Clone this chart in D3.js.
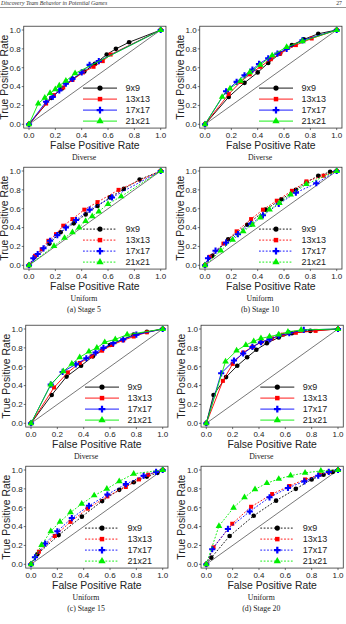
<!DOCTYPE html>
<html>
<head>
<meta charset="utf-8">
<script src="https://cdn.jsdelivr.net/npm/d3@7"></script>
<style>
  body { margin: 0; background: #fff; }
  svg { display: block; }
  .tick-label { font-family: "Liberation Sans", Arial, sans-serif; font-size: 8px; fill: #222; }
  .axis-title { font-family: "Liberation Sans", Arial, sans-serif; font-size: 10.4px; fill: #222; }
  .legend-text { font-family: "Liberation Sans", Arial, sans-serif; font-size: 9px; fill: #222; }
  .caption { font-family: "Liberation Serif", "Times New Roman", serif; font-size: 7.8px; fill: #222; }
  .header { font-family: "Liberation Serif", "Times New Roman", serif; font-size: 5.8px; font-style: italic; fill: #333; }
</style>
</head>
<body>
<svg id="chart"></svg>
<script>
(function(){
    // series names + ticks
    const sizes = ["9x9", "13x13", "17x17", "21x21"];
    const ticks = [0, 0.2, 0.4, 0.6, 0.8, 1.0];
    const tickLabels = ["0.0", "0.2", "0.4", "0.6", "0.8", "1.0"];

    // [FPR, TPR] points, one list per board size
    const stage5Diverse = [
        [[0,0],[0.17,0.28],[0.25,0.38],[0.33,0.48],[0.42,0.56],[0.50,0.64],[0.59,0.74],[0.66,0.80],[0.76,0.87],[1,1]],
        [[0,0],[0.13,0.22],[0.19,0.31],[0.26,0.39],[0.33,0.47],[0.41,0.55],[0.49,0.61],[0.56,0.67],[0.62,0.74],[1,1]],
        [[0,0],[0.13,0.24],[0.18,0.29],[0.23,0.36],[0.28,0.43],[0.33,0.48],[0.40,0.55],[0.46,0.63],[0.53,0.67],[1,1]],
        [[0,0],[0.07,0.22],[0.12,0.28],[0.16,0.33],[0.20,0.37],[0.23,0.41],[0.28,0.46],[0.35,0.54],[1,1]]
    ];
    const stage5Uniform = [
        [[0,0],[0.155,0.23],[0.24,0.35],[0.34,0.445],[0.43,0.54],[0.52,0.63],[0.615,0.72],[0.72,0.81],[0.84,0.91],[1,1]],
        [[0,0],[0.046,0.10],[0.096,0.17],[0.147,0.26],[0.205,0.33],[0.26,0.42],[0.33,0.49],[0.42,0.59],[0.52,0.67],[0.68,0.80],[1,1]],
        [[0,0],[0.033,0.074],[0.066,0.12],[0.11,0.18],[0.16,0.26],[0.215,0.32],[0.28,0.40],[0.357,0.48],[0.46,0.59],[0.63,0.72],[1,1]],
        [[0,0],[0.19,0.205],[0.27,0.29],[0.33,0.35],[0.38,0.40],[0.43,0.47],[0.48,0.52],[0.53,0.57],[0.60,0.65],[0.70,0.73],[1,1]]
    ];
    const stage10Diverse = [
        [[0,0],[0.18,0.29],[0.30,0.44],[0.40,0.55],[0.48,0.65],[0.57,0.75],[0.66,0.84],[0.75,0.90],[0.86,0.96],[1,1]],
        [[0,0],[0.18,0.32],[0.27,0.45],[0.34,0.53],[0.42,0.61],[0.50,0.69],[0.57,0.75],[0.69,0.84],[0.81,0.91],[1,1]],
        [[0,0],[0.16,0.35],[0.24,0.45],[0.30,0.52],[0.36,0.58],[0.41,0.64],[0.48,0.70],[0.55,0.75],[0.62,0.80],[0.74,0.89],[1,1]],
        [[0,0],[0.13,0.29],[0.19,0.38],[0.27,0.46],[0.34,0.55],[0.42,0.63],[0.51,0.73],[0.62,0.82],[0.74,0.88],[1,1]]
    ];
    const stage10Uniform = [
        [[0,0],[0.056,0.10],[0.176,0.275],[0.32,0.43],[0.46,0.59],[0.58,0.70],[0.69,0.80],[0.77,0.88],[0.86,0.95],[0.95,0.99],[1,1]],
        [[0,0],[0.036,0.09],[0.14,0.23],[0.24,0.36],[0.35,0.49],[0.44,0.59],[0.545,0.685],[0.66,0.79],[0.77,0.89],[0.90,0.95],[1,1]],
        [[0,0],[0.023,0.074],[0.08,0.155],[0.16,0.24],[0.25,0.33],[0.35,0.44],[0.44,0.53],[0.56,0.65],[0.69,0.77],[0.845,0.87],[1,1]],
        [[0,0],[0.12,0.155],[0.21,0.27],[0.29,0.36],[0.36,0.43],[0.42,0.505],[0.49,0.59],[0.565,0.66],[0.65,0.75],[0.77,0.86],[1,1]]
    ];
    const stage15Diverse = [
        [[0,0],[0.157,0.30],[0.27,0.495],[0.38,0.61],[0.47,0.71],[0.60,0.83],[0.78,0.94],[0.88,0.97],[1,1]],
        [[0,0],[0.175,0.38],[0.28,0.54],[0.37,0.64],[0.46,0.71],[0.54,0.77],[0.615,0.83],[0.70,0.88],[0.78,0.92],[0.88,0.965],[1,1]],
        [[0,0],[0.15,0.41],[0.24,0.545],[0.34,0.625],[0.42,0.69],[0.49,0.75],[0.55,0.80],[0.625,0.85],[0.70,0.89],[0.80,0.94],[1,1]],
        [[0,0],[0.15,0.41],[0.245,0.55],[0.31,0.63],[0.37,0.70],[0.44,0.76],[0.50,0.80],[0.56,0.86],[0.64,0.89],[0.73,0.94],[1,1]]
    ];
    const stage15Uniform = [
        [[0,0],[0.048,0.106],[0.21,0.31],[0.386,0.505],[0.54,0.67],[0.67,0.79],[0.78,0.87],[0.88,0.93],[0.96,0.97],[1,1]],
        [[0,0],[0.06,0.134],[0.18,0.30],[0.30,0.45],[0.43,0.59],[0.58,0.72],[0.72,0.82],[0.82,0.90],[0.89,0.95],[1,1]],
        [[0,0],[0.03,0.074],[0.107,0.22],[0.20,0.35],[0.31,0.49],[0.44,0.62],[0.58,0.74],[0.72,0.85],[0.855,0.94],[0.95,0.98],[1,1]],
        [[0,0],[0.08,0.205],[0.15,0.35],[0.22,0.45],[0.30,0.55],[0.385,0.64],[0.48,0.73],[0.576,0.80],[0.67,0.88],[0.78,0.96],[1,1]]
    ];
    const stage20Diverse = [
        [[0,0],[0.055,0.30],[0.15,0.49],[0.235,0.61],[0.31,0.70],[0.38,0.78],[0.46,0.85],[0.55,0.91],[0.65,0.955],[0.79,0.98],[1,1]],
        [[0,0],[0.126,0.45],[0.20,0.63],[0.28,0.75],[0.35,0.81],[0.415,0.86],[0.50,0.90],[0.58,0.94],[0.68,0.96],[0.83,0.98],[1,1]],
        [[0,0],[0.113,0.53],[0.21,0.665],[0.28,0.74],[0.35,0.81],[0.415,0.86],[0.48,0.89],[0.55,0.93],[0.63,0.955],[0.74,0.99],[1,1]],
        [[0,0],[0.146,0.655],[0.23,0.77],[0.30,0.83],[0.36,0.87],[0.415,0.90],[0.48,0.92],[0.55,0.94],[0.62,0.97],[0.72,0.99],[1,1]]
    ];
    const stage20Uniform = [
        [[0,0],[0.038,0.07],[0.177,0.30],[0.36,0.515],[0.53,0.675],[0.68,0.80],[0.80,0.90],[0.89,0.95],[0.96,0.98],[1,1]],
        [[0,0],[0.055,0.18],[0.197,0.43],[0.34,0.61],[0.50,0.745],[0.63,0.83],[0.75,0.90],[0.86,0.95],[0.93,0.98],[1,1]],
        [[0,0],[0.045,0.16],[0.164,0.375],[0.33,0.56],[0.48,0.71],[0.62,0.81],[0.745,0.88],[0.85,0.94],[0.93,0.98],[1,1]],
        [[0,0],[0.096,0.406],[0.207,0.60],[0.29,0.71],[0.37,0.795],[0.46,0.86],[0.55,0.905],[0.64,0.94],[0.75,0.97],[0.87,0.99],[1,1]]
    ];

    // styling per series
    const colors = ["#000000", "#ff0000", "#0000ff", "#00ee00"];
    const shapes = [d3.symbolCircle, d3.symbolSquare, d3.symbolCross, d3.symbolTriangle];
    const shapeSize = [17, 16, 21, 19];

    const W = 346, H = 624;
    const svg = d3.select("#chart").attr("width", W).attr("height", H)
        .attr("viewBox", `0 0 ${W} ${H}`);
    svg.append("rect").attr("width", W).attr("height", H).attr("fill", "#fff");

    // running page header
    svg.append("text").attr("class","header").attr("x", 1).attr("y", 5.2)
        .text("Discovery Team Behavior in Potential Games");
    svg.append("text").attr("class","header").attr("x", 342).attr("y", 5.2)
        .attr("text-anchor","end").style("font-style","normal").text("27");
    svg.append("line").attr("x1",0).attr("x2",W).attr("y1",7.5).attr("y2",7.5)
        .attr("stroke","#8a8a8a").attr("stroke-width",0.9);

    // panel layout: x0 = px of FPR 0, top = px of TPR 1
    const PW = 131.7, PH = 94.3, pad = 0.04;
    const panels = [
        { data: stage5Diverse,  x0: 29,    top: 30,  dashed: false, caption: "Diverse" },
        { data: stage10Diverse, x0: 205,   top: 30,  dashed: false, caption: "Diverse" },
        { data: stage5Uniform,  x0: 29,    top: 171, dashed: true,  caption: "Uniform", sub: "(a) Stage 5" },
        { data: stage10Uniform, x0: 205,   top: 171, dashed: true,  caption: "Uniform", sub: "(b) Stage 10" },
        { data: stage15Diverse, x0: 31,    top: 329, dashed: false, caption: "Diverse" },
        { data: stage20Diverse, x0: 206.3, top: 329, dashed: false, caption: "Diverse" },
        { data: stage15Uniform, x0: 31,    top: 470, dashed: true,  caption: "Uniform", sub: "(c) Stage 15" },
        { data: stage20Uniform, x0: 206.3, top: 470, dashed: true,  caption: "Uniform", sub: "(d) Stage 20" }
    ];

    panels.forEach(p => {
        const x = d3.scaleLinear().domain([0, 1]).range([p.x0, p.x0 + PW]);
        const y = d3.scaleLinear().domain([0, 1]).range([p.top + PH, p.top]);
        const g = svg.append("g");
        const bx0 = x(-pad), bx1 = x(1 + pad), by0 = y(1 + pad), by1 = y(-pad);

        // chance diagonal
        g.append("line").attr("x1", x(0)).attr("y1", y(0)).attr("x2", x(1)).attr("y2", y(1))
            .attr("stroke", "#555").attr("stroke-width", 0.8);

        // curves
        const line = d3.line().x(d => x(d[0])).y(d => y(d[1]));
        p.data.forEach((series, i) => {
            g.append("path").datum(series).attr("d", line)
                .attr("fill", "none").attr("stroke", colors[i]).attr("stroke-width", 0.9)
                .attr("stroke-dasharray", p.dashed ? "1.8,1.6" : null);
            g.selectAll(null).data(series).enter().append("path")
                .attr("transform", d => `translate(${x(d[0])},${y(d[1])})`)
                .attr("d", d3.symbol().type(shapes[i]).size(shapeSize[i]))
                .attr("fill", colors[i]);
        });

        // frame
        g.append("rect").attr("x", bx0).attr("y", by0).attr("width", bx1 - bx0).attr("height", by1 - by0)
            .attr("fill", "none").attr("stroke", "#333").attr("stroke-width", 0.8);

        // ticks + labels
        ticks.forEach((t, k) => {
            g.append("line").attr("x1", x(t)).attr("x2", x(t)).attr("y1", by1).attr("y2", by1 + 2)
                .attr("stroke", "#333").attr("stroke-width", 0.7);
            g.append("text").attr("class", "tick-label").attr("x", x(t)).attr("y", by1 + 9.7)
                .attr("text-anchor", "middle").text(tickLabels[k]);
            g.append("line").attr("x1", bx0 - 2).attr("x2", bx0).attr("y1", y(t)).attr("y2", y(t))
                .attr("stroke", "#333").attr("stroke-width", 0.7);
            g.append("text").attr("class", "tick-label").attr("x", bx0 - 3).attr("y", y(t) + 2.9)
                .attr("text-anchor", "end").text(tickLabels[k]);
        });

        g.append("text").attr("class", "axis-title").attr("x", x(0.5)).attr("y", y(0) + 24.4)
            .attr("text-anchor", "middle").text("False Positive Rate");
        g.append("text").attr("class", "axis-title")
            .attr("transform", `translate(${p.x0 - 21},${y(0.5)}) rotate(-90)`)
            .attr("text-anchor", "middle").text("True Positive Rate");

        // legend, lower right
        sizes.forEach((s, i) => {
            const ly = y(0) - 36.2 + i * 11;
            g.append("line").attr("x1", p.x0 + 54).attr("x2", p.x0 + 88).attr("y1", ly).attr("y2", ly)
                .attr("stroke", colors[i]).attr("stroke-width", 0.9)
                .attr("stroke-dasharray", p.dashed ? "1.8,1.6" : null);
            g.append("path").attr("transform", `translate(${p.x0 + 71},${ly})`)
                .attr("d", d3.symbol().type(shapes[i]).size(shapeSize[i] + 4)).attr("fill", colors[i]);
            g.append("text").attr("class", "legend-text").attr("x", p.x0 + 96.5).attr("y", ly + 3.2).text(s);
        });

        // captions
        g.append("text").attr("class", "caption").attr("x", p.x0 + 55).attr("y", y(0) + 35.6)
            .attr("text-anchor", "middle").text(p.caption);
        if (p.sub) {
            g.append("text").attr("class", "caption").attr("x", p.x0 + 55).attr("y", y(0) + 46.3)
                .attr("text-anchor", "middle").text(p.sub);
        }
    });
})();
</script>
</body>
</html>
